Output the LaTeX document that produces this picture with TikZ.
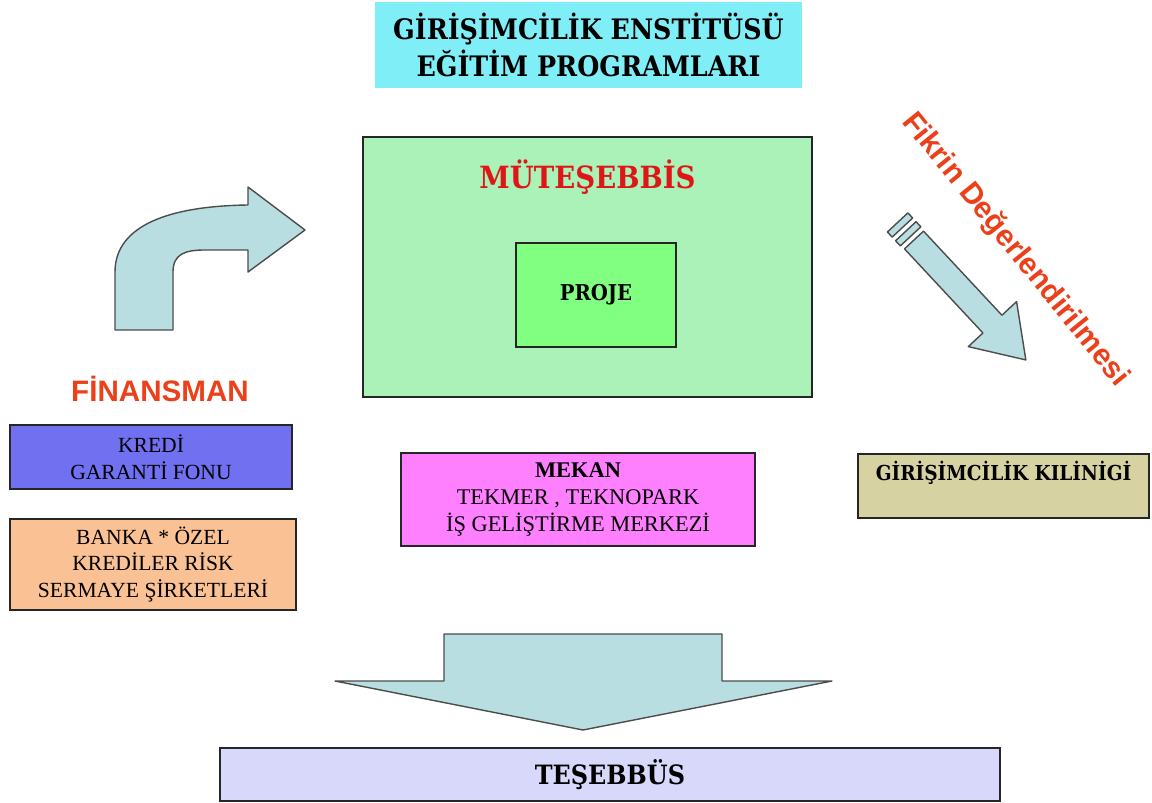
\documentclass[tikz,border=0pt]{standalone}
\usepackage{fontspec}
\setmainfont{Liberation Serif}
\newfontfamily\slabfont[FakeStretch=0.9]{DejaVu Serif}
\newfontfamily\arialfont{Liberation Sans}
\usetikzlibrary{positioning}
\definecolor{titlecyan}{RGB}{128,238,246}
\definecolor{arrowblue}{RGB}{185,222,225}
\definecolor{mutgreen}{RGB}{170,242,184}
\definecolor{projegreen}{RGB}{128,255,128}
\definecolor{krediblue}{RGB}{112,112,240}
\definecolor{bankaorange}{RGB}{250,194,148}
\definecolor{mekanpink}{RGB}{255,128,255}
\definecolor{klinikkhaki}{RGB}{214,210,162}
\definecolor{tesebbuslav}{RGB}{216,216,250}
\definecolor{mutred}{RGB}{222,22,22}
\definecolor{finred}{RGB}{236,64,26}
\begin{document}
\begin{tikzpicture}[
        x=0.5pt, y=-0.5pt,
        every node/.style={inner sep=0pt, outer sep=0pt},
        box/.style={rectangle, draw=black!85, line width=0.8pt, align=center},
        plaintext/.style={font=\fontsize{10.8}{13.3}\selectfont},
        blockarrow/.style={draw=black!70, line width=0.7pt, fill=arrowblue, line join=round}
    ]
        \fill[white] (0,0) rectangle (1152,803);
        \useasboundingbox (0,0) rectangle (1152,803);

        \node (title) [fill=titlecyan, minimum width=213.5pt, minimum height=43pt, align=center,
            font=\slabfont\bfseries\fontsize{14.1}{18.5}\selectfont] at (588.5,45)
            {GİRİŞİMCİLİK ENSTİTÜSÜ\\EĞİTİM PROGRAMLARI};

        \node (mut) [box, fill=mutgreen, minimum width=224.5pt, minimum height=130pt] at (587.5,267) {};
        \node (mutlabel) [anchor=base, text=mutred, font=\slabfont\bfseries\fontsize{15.3}{17}\selectfont]
            at ([yshift=-25.5pt]mut.north) {MÜTEŞEBBİS};
        \node (proje) [box, fill=projegreen, minimum width=80pt, minimum height=52pt,
            font=\slabfont\bfseries\fontsize{10.9}{12}\selectfont] at (596,295) {PROJE};

        \node (finansman) [anchor=base, text=finred, font=\arialfont\bfseries\fontsize{14.8}{16}\selectfont]
            at (160,401) {FİNANSMAN};
        \node (kredi) [box, plaintext, fill=krediblue, minimum width=141pt, minimum height=32pt] at (151,457)
            {KREDİ\\GARANTİ FONU};
        \node (banka) [box, plaintext, fill=bankaorange, minimum width=143pt, minimum height=45.5pt] at (153,564.5)
            {BANKA * ÖZEL\\KREDİLER RİSK\\SERMAYE ŞİRKETLERİ};

        \node (mekan) [box, fill=mekanpink, minimum width=177pt, minimum height=46.5pt,
            font=\fontsize{11.2}{13.5}\selectfont] at (578,499.5)
            {\textbf{MEKAN}\\TEKMER , TEKNOPARK\\İŞ GELİŞTİRME MERKEZİ};

        \node (klinik) [box, fill=klinikkhaki, minimum width=145.5pt, minimum height=32pt] at (1003.5,486) {};
        \node (kliniklabel) [anchor=base, font=\slabfont\bfseries\fontsize{10.3}{12}\selectfont]
            at ([yshift=-13pt]klinik.north) {GİRİŞİMCİLİK KILİNİGİ};

        \node (fikir) [rotate=-51, text=finred, font=\arialfont\bfseries\fontsize{15}{17}\selectfont]
            at (1015,250) {Fikrin Değerlendirilmesi};

        \node (tesebbus) [box, fill=tesebbuslav, minimum width=390pt, minimum height=26.5pt,
            font=\slabfont\bfseries\fontsize{13.3}{15}\selectfont] at (610,774.5) {TEŞEBBÜS};

        \draw[blockarrow] (115,330) -- (115,272) .. controls (115,225) and (170,206) .. (248,205)
            -- (248,187) -- (305,230) -- (248,272) -- (248,250) -- (205,250)
            .. controls (185,250) and (173,254) .. (173,272) -- (173,330) -- cycle;

        \begin{scope}[shift={(914,240)}, rotate=-47]
            \draw[blockarrow] (0,-13) -- (115,-13) -- (115,-33) -- (164,0) -- (115,33) -- (115,13) -- (0,13) -- cycle;
            \draw[blockarrow] (-12,-14) -- (-5,-14) -- (-5,14) -- (-12,14) -- cycle;
            \draw[blockarrow] (-24,-14) -- (-17,-14) -- (-17,14) -- (-24,14) -- cycle;
        \end{scope}

        \draw[blockarrow] (444,634) -- (722,634) -- (722,681) -- (832,681) -- (583,730)
            -- (335,681) -- (444,681) -- cycle;
    \end{tikzpicture}
\end{document}
